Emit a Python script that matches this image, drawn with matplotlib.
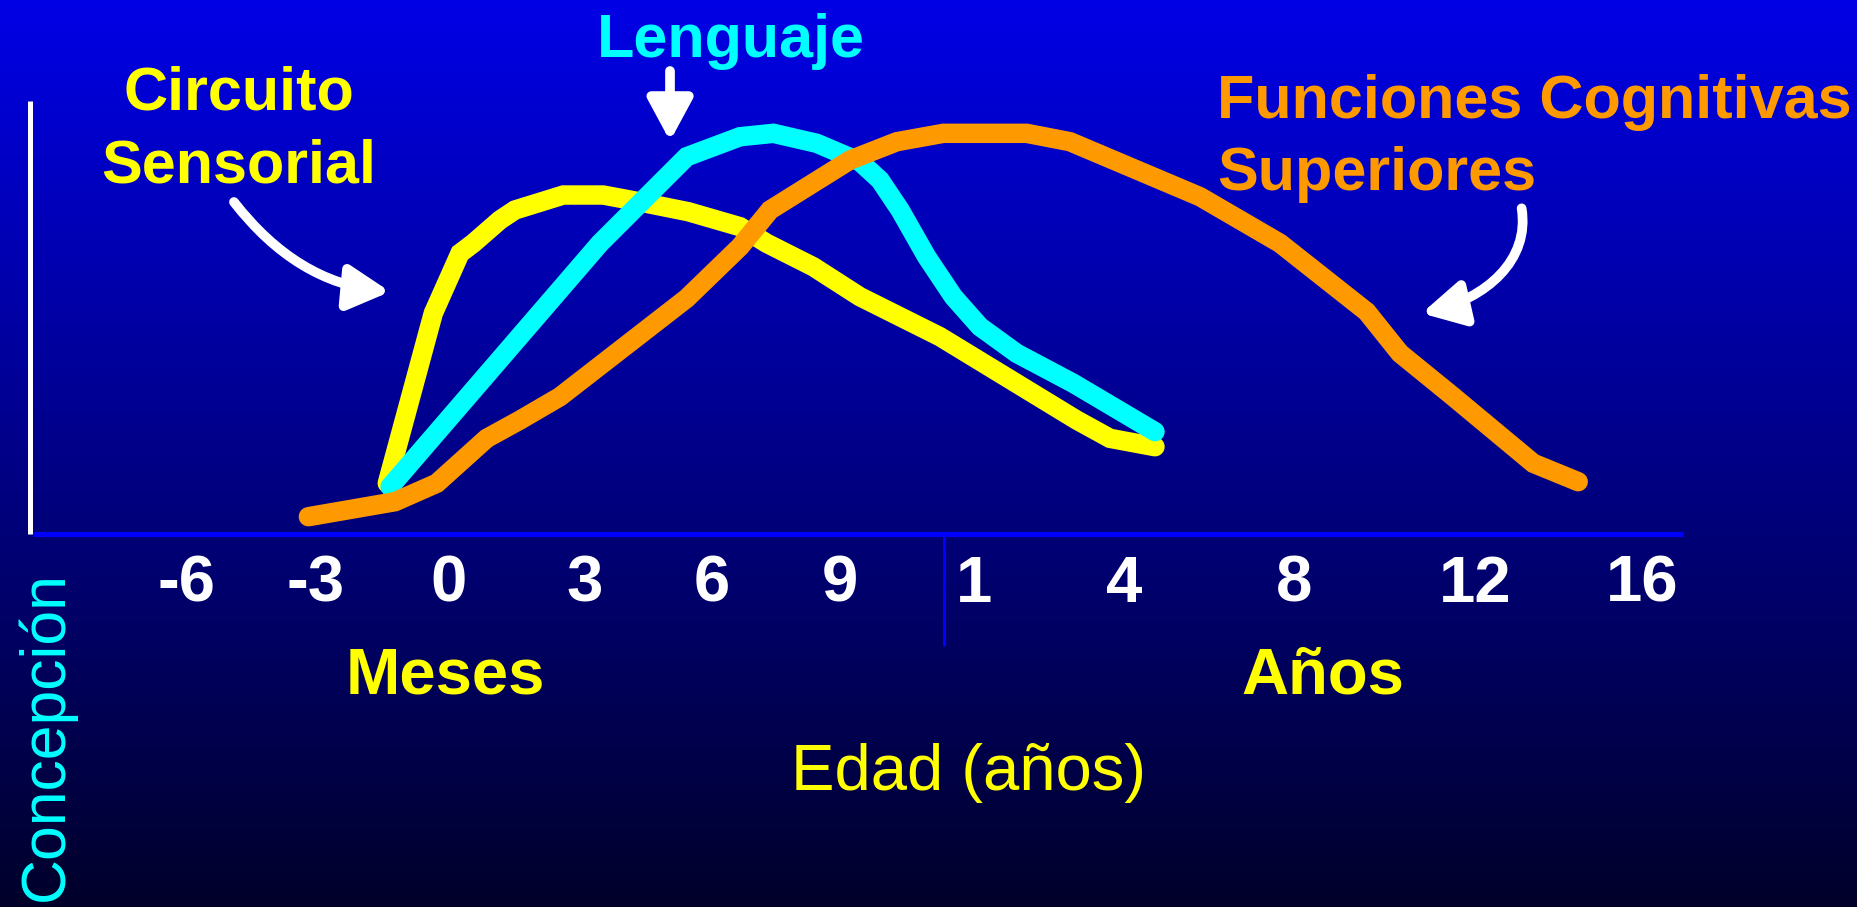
import matplotlib
matplotlib.use('Agg')
import matplotlib.pyplot as plt
import numpy as np
from matplotlib.colors import LinearSegmentedColormap
from matplotlib.patches import FancyArrowPatch
from matplotlib.path import Path

# ---------------- data (x = position along the age axis, 0-100; y = development level, 0-100) -------------
tick_labels = ['-6', '-3', '0', '3', '6', '9', '1', '4', '8', '12', '16']
tick_pos = [9.30, 17.15, 25.18, 33.45, 41.12, 48.88, 57.03, 66.12, 76.42, 87.39, 97.52]
divider_pos = 55.21

sensorial_pos = [21.47, 24.26, 25.88, 26.68, 28.30, 29.21, 32.14, 34.56, 36.18, 39.72,
                 42.85, 44.47, 47.29, 50.12, 54.97, 63.25, 65.27, 68.00]
sensorial_nivel = [11.71, 50.97, 64.83, 67.14, 72.52, 74.83, 78.29, 78.29, 77.14, 74.43,
                   70.97, 67.14, 61.73, 54.80, 45.57, 26.33, 22.10, 20.16]

lenguaje_pos = [21.64, 34.36, 39.62, 42.85, 44.87, 47.50, 50.12, 51.33, 52.55, 54.16,
                55.78, 57.39, 59.62, 63.05, 68.00]
lenguaje_nivel = [10.92, 67.14, 87.14, 91.75, 92.54, 90.23, 85.98, 81.76, 74.83, 64.04,
                  54.80, 47.88, 41.73, 34.80, 23.63]

cognitivas_pos = [16.69, 21.94, 24.47, 27.50, 29.52, 31.94, 39.62, 42.85, 44.67, 49.52,
                  52.35, 55.17, 60.22, 62.85, 70.73, 75.58, 80.83, 82.85, 86.08, 90.93, 93.65]
cognitivas_nivel = [4.00, 7.46, 11.71, 22.10, 26.33, 31.71, 54.43, 66.35, 74.83, 86.37,
                    90.60, 92.54, 92.54, 90.60, 77.90, 67.14, 51.34, 41.73, 31.71, 16.33, 12.08]

YELLOW = '#FFFF00'
CYAN = '#00FFFF'
ORANGE = '#FF9900'
AXBLUE = '#0000FF'

plt.rcParams['font.family'] = ['Liberation Sans', 'DejaVu Sans']

fig = plt.figure(figsize=(18.58, 9.07), dpi=100)
ax = fig.add_axes([0, 0, 1, 1])
X0, X1 = -2.0, 110.606
Y0, Y1 = -86.14, 123.33

# background gradient
grad = np.linspace(0, 1, 512).reshape(-1, 1)
cmap = LinearSegmentedColormap.from_list('bg', ['#00002A', '#0000E6'])
ax.imshow(grad, extent=[X0, X1, Y0, Y1], origin='lower', aspect='auto',
          cmap=cmap, zorder=0, interpolation='bilinear')
ax.set_xlim(X0, X1)
ax.set_ylim(Y0, Y1)
ax.axis('off')

# axes lines
ax.plot([0, 100], [0, 0], color=AXBLUE, lw=3.6, solid_capstyle='butt', zorder=2)
ax.plot([-0.18, -0.18], [0, 100], color='white', lw=3.6, solid_capstyle='butt', zorder=2)
ax.plot([divider_pos, divider_pos], [0, -25.87], color=AXBLUE, lw=2.2,
        solid_capstyle='butt', zorder=2)

# curves
kw = dict(lw=14, solid_capstyle='round', solid_joinstyle='miter')
ax.plot(sensorial_pos, sensorial_nivel, color=YELLOW, zorder=3, **kw)
ax.plot(lenguaje_pos, lenguaje_nivel, color=CYAN, zorder=4, **kw)
ax.plot(cognitivas_pos, cognitivas_nivel, color=ORANGE, zorder=5, **kw)

# tick labels
for p, lab in zip(tick_pos, tick_labels):
    ax.text(p, -15.70, lab, ha='center', va='baseline', fontsize=47,
            fontweight='bold', color='white', zorder=6)

# labels
big = dict(fontsize=44, fontweight='bold', va='baseline', zorder=6)
ax.text(42.30, 110.16, 'Lenguaje', ha='center', color=CYAN, **big)
ax.text(12.48, 98.15, 'Circuito', ha='center', color=YELLOW, **big)
ax.text(12.48, 81.29, 'Sensorial', ha='center', color=YELLOW, **big)
ax.text(71.76, 96.07, 'Funciones Cognitivas', ha='left', color=ORANGE, **big)
ax.text(71.76, 79.56, 'Superiores', ha='left', color=ORANGE, **big)

ax.text(25.0, -36.72, 'Meses', ha='center', va='baseline', fontsize=47,
        fontweight='bold', color=YELLOW, zorder=6)
ax.text(78.18, -36.72, 'Años', ha='center', va='baseline', fontsize=47,
        fontweight='bold', color=YELLOW, zorder=6)
ax.text(56.67, -59.12, 'Edad (años)', ha='center', va='baseline', fontsize=47,
        color=YELLOW, zorder=6)
ax.text(1.82, -8.68, 'Concepción', rotation=90, rotation_mode='anchor',
        ha='right', va='baseline', fontsize=45, color=CYAN, zorder=6)

# arrows
astyle = '-|>,head_length=25,head_width=13.5'


def add_arrow(verts, codes):
    p = FancyArrowPatch(path=Path(verts, codes), arrowstyle=astyle, mutation_scale=1,
                        lw=7, color='white', transform=ax.transData, zorder=7)
    ax.add_patch(p)


add_arrow([(12.18, 76.67), (16.0, 57.97), (21.64, 55.96)],
          [Path.MOVETO, Path.CURVE3, Path.CURVE3])
add_arrow([(90.22, 75.22), (90.73, 63.28), (88.09, 54.39), (84.16, 50.97)],
          [Path.MOVETO, Path.CURVE4, Path.CURVE4, Path.CURVE4])
add_arrow([(38.61, 106.93), (38.61, 90.76)], [Path.MOVETO, Path.LINETO])

fig.savefig('out.png', dpi=100)
